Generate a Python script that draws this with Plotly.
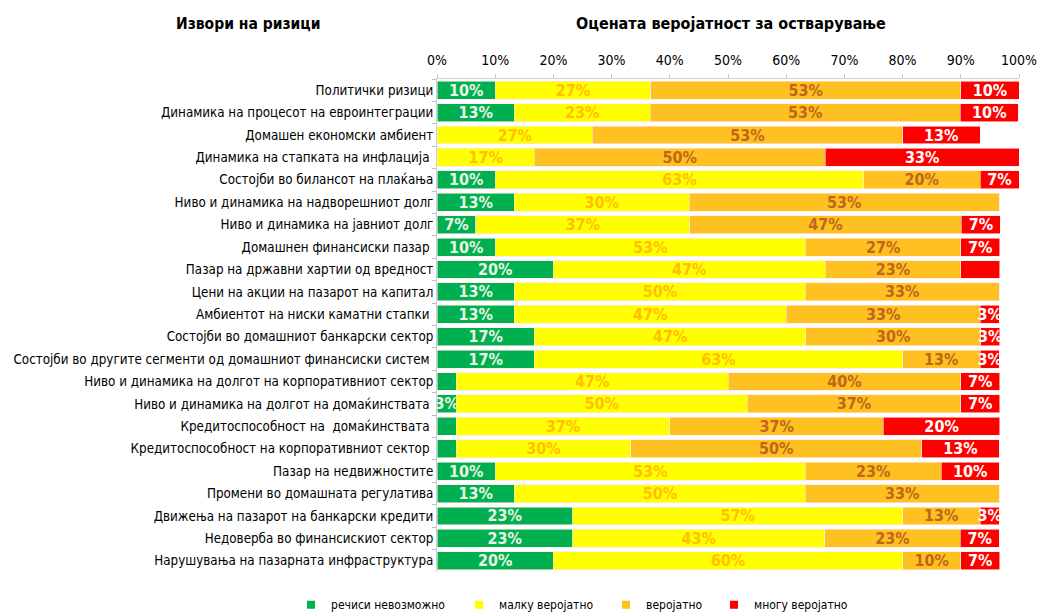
import plotly.graph_objects as go

# risk sources, top to bottom
categories = [
    "Политички ризици",
    "Динамика на процесот на евроинтеграции",
    "Домашен економски амбиент",
    "Динамика на стапката на инфлација ",
    "Состојби во билансот на плаќања",
    "Ниво и динамика на надворешниот долг",
    "Ниво и динамика на јавниот долг",
    "Домашнен финансиски пазар ",
    "Пазар на државни хартии од вредност",
    "Цени на акции на пазарот на капитал",
    "Амбиентот на ниски каматни стапки ",
    "Состојби во домашниот банкарски сектор",
    "Состојби во другите сегменти од домашниот финансиски систем ",
    "Ниво и динамика на долгот на корпоративниот сектор",
    "Ниво и динамика на долгот на домаќинствата ",
    "Кредитоспособност на  домаќинствата ",
    "Кредитоспособност на корпоративниот сектор ",
    "Пазар на недвижностите",
    "Промени во домашната регулатива",
    "Движења на пазарот на банкарски кредити",
    "Недоверба во финансискиот сектор",
    "Нарушувања на пазарната инфраструктура",
]

# shares of answers, in %
almost_impossible = [10, 13.3, 0, 0, 10, 13.3, 6.7, 10, 20, 13.3, 13.3,
                     16.7, 16.7, 3.3, 3.3, 3.3, 3.3, 10, 13.3, 23.3, 23.3, 20]
slightly_likely = [26.7, 23.3, 26.7, 16.7, 63.3, 30, 36.7, 53.3, 46.7, 50, 46.7,
                   46.7, 63.3, 46.7, 50, 36.7, 30, 53.3, 50, 56.7, 43.3, 60]
likely = [53.3, 53.3, 53.3, 50, 20, 53.3, 46.7, 26.7, 23.3, 33.3, 33.3,
          30, 13.3, 40, 36.7, 36.7, 50, 23.3, 33.3, 13.3, 23.3, 10]
very_likely = [10, 10, 13.3, 33.3, 6.7, 0, 6.7, 6.7, 6.7, 0, 3.3,
               3.3, 3.3, 6.7, 6.7, 20, 13.3, 10, 0, 3.3, 6.7, 6.7]

series_names = ["речиси невозможно", "малку веројатно", "веројатно", "многу веројатно"]
series_values = [almost_impossible, slightly_likely, likely, very_likely]

# labels the original chart does not show (series index, row index)
hidden_labels = {(0, 13), (0, 15), (0, 16), (3, 8)}

bar_colors = ["#00B050", "#FFFF00", "#FFC021", "#FF0000"]
text_colors = ["#EAF5E4", "#FFC000", "#C0661A", "#FFFFFF"]

FONT = "DejaVu Sans Condensed"

# one small legend per series so the entries sit where the original has them
legend_x = [0.2801, 0.4418, 0.5833, 0.6872]
legend_ids = ["legend", "legend2", "legend3", "legend4"]

fig = go.Figure()
for s, (name, vals) in enumerate(zip(series_names, series_values)):
    texts = []
    for r, v in enumerate(vals):
        texts.append("" if (s, r) in hidden_labels else f"{round(v)}%")
    fig.add_trace(go.Bar(
        y=categories,
        x=[v / 100 for v in vals],
        name=name,
        orientation="h",
        marker=dict(color=bar_colors[s], line=dict(color="#FFE6E6", width=0.6)),
        text=texts,
        textposition="inside",
        insidetextanchor="middle",
        textangle=0,
        textfont=dict(family=FONT, size=16, color=text_colors[s], weight="bold"),
        hoverinfo="skip",
        showlegend=False,
    ))
    # legend entry with a small square symbol
    fig.add_trace(go.Scatter(
        x=[None], y=[None],
        mode="markers",
        name=name,
        marker=dict(symbol="square", size=8, color=bar_colors[s]),
        legend=legend_ids[s],
        showlegend=True,
    ))

legend_style = dict(
    orientation="h",
    xref="container", yref="container",
    y=0.012, yanchor="middle",
    xanchor="left",
    font=dict(family=FONT, size=12, color="#000000"),
    itemwidth=30,
    bgcolor="rgba(0,0,0,0)",
)

fig.update_layout(
    barmode="stack",
    bargap=0.2,
    width=1039,
    height=612,
    margin=dict(l=437, r=20, t=79, b=40),
    paper_bgcolor="white",
    plot_bgcolor="white",
    font=dict(family=FONT, size=13, color="#000000"),
    uniformtext=dict(minsize=16, mode="show"),
    showlegend=True,
    legend=dict(x=legend_x[0], **legend_style),
    legend2=dict(x=legend_x[1], **legend_style),
    legend3=dict(x=legend_x[2], **legend_style),
    legend4=dict(x=legend_x[3], **legend_style),
    annotations=[
        dict(text="<b>Извори на ризици</b>", xref="paper", yref="paper",
             x=-0.325, y=1.112, xanchor="center", yanchor="middle", showarrow=False,
             font=dict(family=FONT, size=15.5)),
        dict(text="<b>Оцената веројатност за остварување</b>", xref="paper", yref="paper",
             x=0.505, y=1.112, xanchor="center", yanchor="middle", showarrow=False,
             font=dict(family=FONT, size=16)),
    ],
)

fig.update_xaxes(
    side="top",
    range=[0, 1],
    tickvals=[i / 10 for i in range(11)],
    tickformat=".0%",
    showgrid=False,
    zeroline=False,
    showline=True,
    linecolor="#D0D0D0",
    ticks="outside",
    ticklen=4,
    tickcolor="#C8C8C8",
    ticklabelstandoff=3,
    tickfont=dict(family=FONT, size=14),
    automargin=False,
    fixedrange=True,
)
fig.update_yaxes(
    autorange="reversed",
    showgrid=False,
    showline=True,
    linecolor="#D0D0D0",
    ticks="outside",
    ticklen=4,
    tickcolor="#BFBFBF",
    tickson="boundaries",
    tickfont=dict(family=FONT, size=13.3),
    automargin=False,
    fixedrange=True,
)

# page body has an 8px default margin; drop it so the figure fills the window
fig.write_html("out.html", config={"displayModeBar": False},
               post_script="document.body.style.margin='0px';")
